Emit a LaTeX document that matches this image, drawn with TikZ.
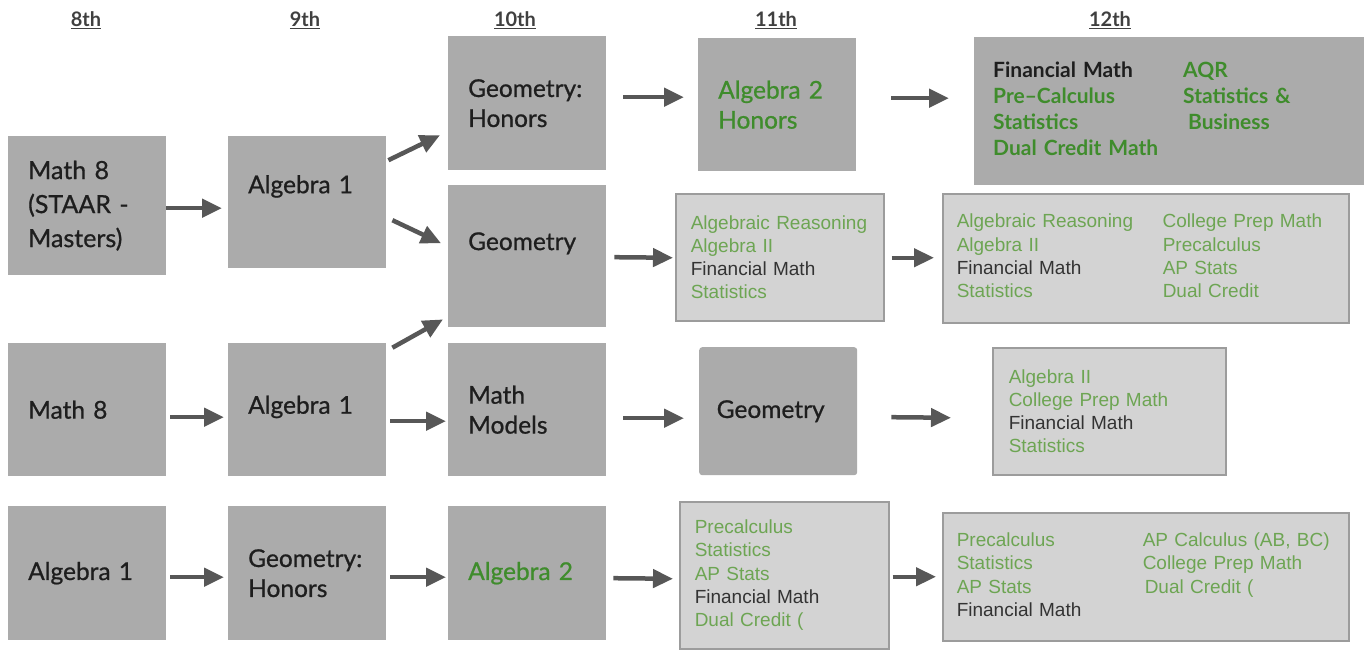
\documentclass[tikz,border=0pt]{standalone}
\usepackage{fontspec}
\setmainfont{Lato}
\newfontfamily\coursefont[FakeBold=0.8]{Lato}
\newfontfamily\listfont{Liberation Sans}
\usetikzlibrary{calc}
\usetikzlibrary{arrows.meta}
\usetikzlibrary{positioning}

\definecolor{boxgray}{HTML}{ABABAB}
\definecolor{palebox}{HTML}{D3D3D3}
\definecolor{edgegray}{HTML}{9C9C9C}
\definecolor{arrowgray}{HTML}{575757}
\definecolor{deepgreen}{HTML}{3F8C2C}
\definecolor{palegreen}{HTML}{6DA553}
\definecolor{ink}{HTML}{1E1E1E}
\definecolor{softink}{HTML}{333333}

\begin{document}
\begin{tikzpicture}[
          x=1pt, y=-1pt,
          grade/.style={
            text=ink!85,
            font=\bfseries\fontsize{20}{24}\selectfont},
          course/.style={
            fill=boxgray,
            text=ink,
            anchor=north west,
            inner xsep=20pt,
            text width=118pt,
            minimum width=158pt,
            align=left,
            font=\coursefont\fontsize{24.5}{30}\selectfont},
          options/.style={
            fill=palebox,
            draw=edgegray,
            line width=1.5pt,
            text=palegreen,
            anchor=north west,
            inner xsep=15pt,
            align=left,
            font=\listfont\fontsize{19}{23.3}\selectfont},
          flow/.style={
            draw=arrowgray,
            line width=4.5pt,
            -{Triangle[length=20pt,width=18pt]}},
        ]
          \useasboundingbox (0,0) rectangle (1364,650);

          % grade headings
          \node[grade] (g8) at (86,20) {\underline{8th}};
          \node[grade] (g9) at (305,20) {\underline{9th}};
          \node[grade] (g10) at (515,20) {\underline{10th}};
          \node[grade] (g11) at (776,20) {\underline{11th}};
          \node[grade] (g12) at (1110,20) {\underline{12th}};

          % 8th grade
          \node[course, minimum height=139pt, font=\coursefont\fontsize{25}{34}\selectfont] (m8top) at (8,136) {Math 8\\(STAAR -\\Masters)};
          \node[course, minimum height=133pt] (m8) at (8,343) {Math 8};
          \node[course, minimum height=134pt] (alg8) at (8,506) {Algebra 1};

          % 9th grade
          \node[course, minimum height=132pt, text depth=36pt] (alga) at (228,136) {Algebra 1};
          \node[course, minimum height=133pt, text depth=10pt] (algb) at (228,343) {Algebra 1};
          \node[course, minimum height=134pt] (geohb) at (228,506) {Geometry:\\Honors};

          % 10th grade
          \node[course, minimum height=134pt] (geoh) at (448,36) {Geometry:\\Honors};
          \node[course, minimum height=142pt, text depth=30pt] (geo) at (448,185) {Geometry};
          \node[course, minimum height=133pt] (models) at (448,343) {Math\\Models};
          \node[course, minimum height=134pt, text=deepgreen] (algtwo) at (448,506) {Algebra 2};

          % 11th grade
          \node[course, minimum height=133pt, text=deepgreen] (algtwoh) at (698,38) {Algebra 2\\Honors};
          \node[options, minimum width=208pt, minimum height=127pt, text width=178pt] (opt11a) at (675,193)
            {Algebraic Reasoning\\Algebra II\\\textcolor{softink}{Financial Math}\\Statistics};
          \node[course, minimum height=128pt, rounded corners=3pt, inner xsep=17pt, text width=123pt] (geotwo) at (699,347) {Geometry};
          \node[options, minimum width=209pt, minimum height=147pt, text width=179pt] (opt11c) at (679,501)
            {Precalculus\\Statistics\\AP Stats\\\textcolor{softink}{Financial Math}\\Dual Credit (};

          % 12th grade
          \node[course, minimum width=390pt, minimum height=148pt, inner xsep=19pt, text width=352pt,
                text=deepgreen, font=\bfseries\fontsize{21}{26}\selectfont] (top12) at (974,37)
            {\begin{tabular}{@{}p{190pt}@{}l@{}}
              \textcolor{ink}{Financial Math} & AQR\\
              Pre–Calculus & Statistics \&\\
              Statistics & \hspace{5pt}Business\\
              Dual Credit Math &
            \end{tabular}};
          \node[options, minimum width=406pt, minimum height=129pt, inner xsep=14pt, text width=378pt] (opt12a) at (942,193)
            {\begin{tabular}{@{}p{206pt}@{}l@{}}
              Algebraic Reasoning & College Prep Math\\
              Algebra II & Precalculus\\
              \textcolor{softink}{Financial Math} & AP Stats\\
              Statistics & Dual Credit
            \end{tabular}};
          \node[options, minimum width=233pt, minimum height=127pt, inner xsep=16pt, text width=201pt] (opt12b) at (992,347)
            {Algebra II\\College Prep Math\\\textcolor{softink}{Financial Math}\\Statistics};
          \node[options, minimum width=406pt, minimum height=128pt, inner xsep=14pt, text width=378pt] (opt12c) at (942,512)
            {\begin{tabular}{@{}p{186pt}@{}l@{}}
              Precalculus & AP Calculus (AB, BC)\\
              Statistics & College Prep Math\\
              AP Stats & \hspace{2pt}Dual Credit (\\
              \textcolor{softink}{Financial Math} &
            \end{tabular}};

          % pathways
          \draw[flow] ($(m8top.east)+(0,2.5)$) -- ($(alga.west)+(-6,6)$);
          \draw[flow] ($(alga.east)+(2,-42)$) -- ($(geoh.west)+(-8,32)$);
          \draw[flow] ($(alga.east)+(6,18)$) -- ($(geo.west)+(-7,-13)$);
          \draw[flow] ($(algb.east)+(6,-62)$) -- ($(geo.south west)+(-5,-8)$);
          \draw[flow] ($(m8.east)+(4,7.5)$) -- ($(algb.west)+(-4,7.5)$);
          \draw[flow] ($(algb.east)+(4,11.5)$) -- ($(models.west)+(-2,11.5)$);
          \draw[flow] ($(models.east)+(17,8.5)$) -- ($(geotwo.west)+(-15,7)$);
          \draw[flow] ($(geotwo.east)+(34,6)$) -- ($(opt12b.west)+(-41,6.5)$);
          \draw[flow] ($(alg8.east)+(4,4)$) -- ($(geohb.west)+(-4,4)$);
          \draw[flow] ($(geohb.east)+(4,4)$) -- ($(algtwo.west)+(-2,4)$);
          \draw[flow] ($(algtwo.east)+(7,5)$) -- ($(opt11c.west)+(-6,3.5)$);
          \draw[flow] ($(opt11c.east)+(3,1.5)$) -- ($(opt12c.west)+(-6,0)$);
          \draw[flow] ($(geoh.east)+(17,-6)$) -- ($(algtwoh.west)+(-14,-7.5)$);
          \draw[flow] ($(algtwoh.east)+(35,-6.5)$) -- ($(top12.west)+(-25,-13)$);
          \draw[flow] ($(geo.east)+(8,1)$) -- ($(opt11a.west)+(-2,0.5)$);
          \draw[flow] ($(opt11a.east)+(7,0.5)$) -- ($(opt12a.west)+(-8,-0.5)$);
        \end{tikzpicture}
\end{document}
